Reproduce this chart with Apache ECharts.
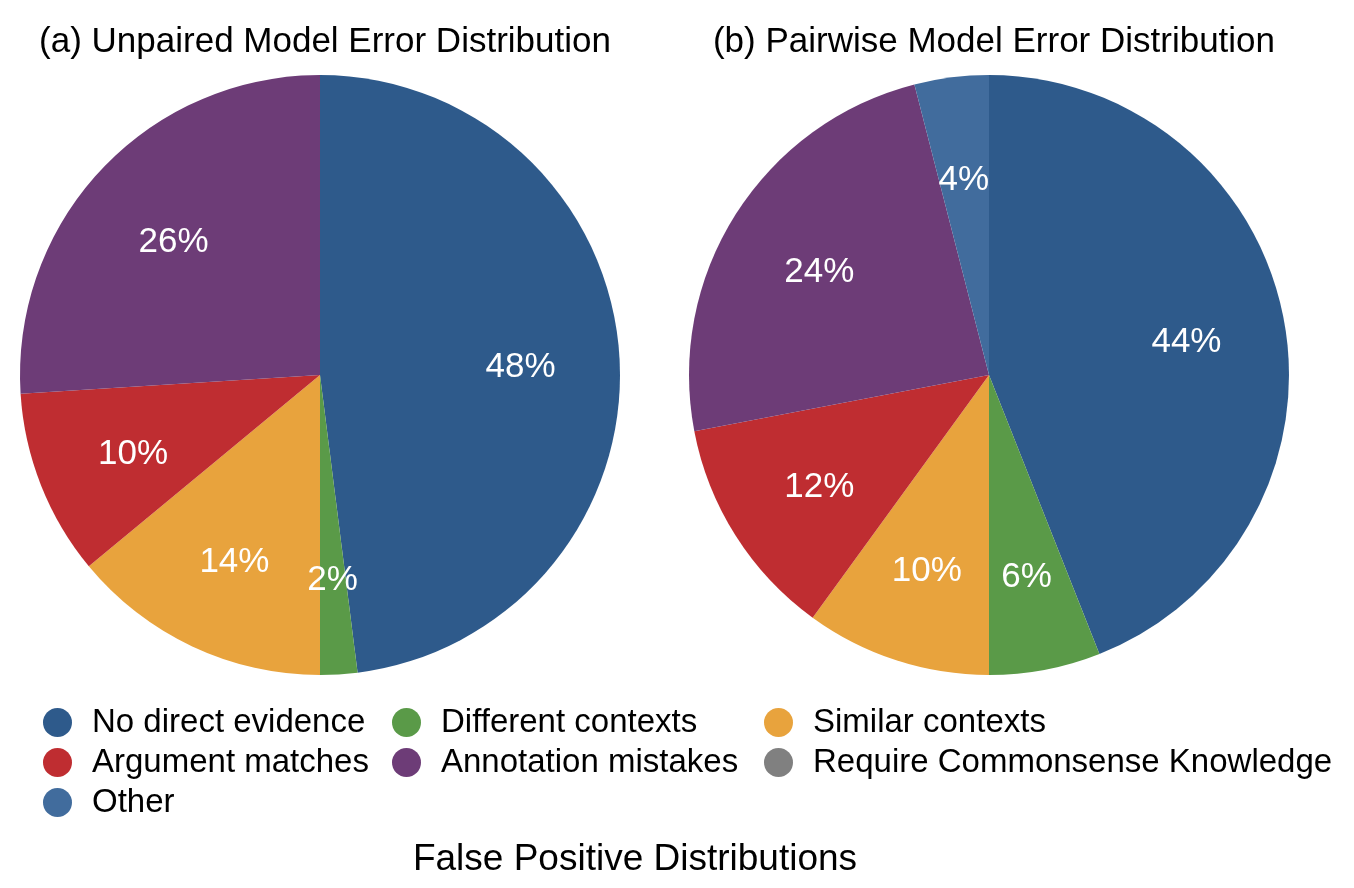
<!DOCTYPE html>
<html>
<head>
<meta charset="utf-8">
<script src="https://cdn.jsdelivr.net/npm/echarts@6/dist/echarts.min.js"></script>
<style>html,body{margin:0;padding:0;background:#fff}#c{width:1354px;height:888px}</style>
</head>
<body>
<div id="c"></div>
<script>
const categories = ["No direct evidence","Different contexts","Similar contexts","Argument matches","Annotation mistakes","Require Commonsense Knowledge","Other"];
const colors = ["#2E5A8B","#5A9A48","#E8A33D","#BF2D31","#6D3C77","#808080","#416C9D"];
const unpairedValues = [48, 2, 14, 10, 26, 0, 0];
const pairwiseValues = [44, 6, 10, 12, 24, 0, 4];
const titles = ["(a) Unpaired Model Error Distribution","(b) Pairwise Model Error Distribution","False Positive Distributions"];
const legendColumns = [
  ["No direct evidence","Argument matches","Other"],
  ["Different contexts","Annotation mistakes"],
  ["Similar contexts","Require Commonsense Knowledge"]
];

const FONT = "Liberation Sans, Arial, Helvetica, sans-serif";
const colorOf = n => colors[categories.indexOf(n)];

function mkData(vals, transparent) {
  return categories.map((n, i) => ({
    name: n, value: vals[i],
    itemStyle: { color: transparent ? 'rgba(0,0,0,0)' : colors[i] }
  })).filter(d => d.value > 0 || !transparent);
}

function pieSeries(vals, cx) {
  return [
    {
      type: 'pie', center: [cx, 375], radius: [0, 300],
      startAngle: 90, clockwise: true, silent: true,
      label: { show: false }, labelLine: { show: false },
      itemStyle: { borderWidth: 0 },
      emphasis: { disabled: true },
      data: mkData(vals, false)
    },
    {
      type: 'pie', center: [cx, 375], radius: [96, 300],
      startAngle: 90, clockwise: true, silent: true,
      label: {
        show: true, position: 'inside', color: '#fff',
        fontSize: 35, fontFamily: FONT,
        formatter: p => p.value > 0 ? p.value + '%' : ''
      },
      labelLayout: { dy: 5 },
      labelLine: { show: false },
      itemStyle: { borderWidth: 0 },
      emphasis: { disabled: true },
      data: mkData(vals, true)
    }
  ];
}

const legendLefts = [38, 387, 759];
const legends = legendColumns.map((col, k) => ({
  orient: 'vertical', left: legendLefts[k], top: 701,
  icon: 'circle', itemWidth: 29, itemHeight: 29, itemGap: 7,
  selectedMode: false,
  textStyle: { fontSize: 33, fontFamily: FONT, color: '#000', lineHeight: 29, padding: [0,0,0,15] },
  data: col.map(n => ({ name: n, itemStyle: { color: colorOf(n) } }))
}));

const chart = echarts.init(document.getElementById('c'), null, { renderer: 'canvas' });
chart.setOption({
  backgroundColor: '#fff',
  animation: false,
  title: [
    { text: titles[0], left: 320, top: 20, textAlign: 'center', textStyle: { fontSize: 35, fontWeight: 'normal', fontFamily: FONT, color: '#000' } },
    { text: titles[1], left: 989, top: 20, textAlign: 'center', textStyle: { fontSize: 35, fontWeight: 'normal', fontFamily: FONT, color: '#000' } },
    { text: titles[2], left: 630, top: 836, textAlign: 'center', textStyle: { fontSize: 37, fontWeight: 'normal', fontFamily: FONT, color: '#000' } }
  ],
  legend: legends,
  series: [...pieSeries(unpairedValues, 320), ...pieSeries(pairwiseValues, 989)]
});
</script>
</body>
</html>
